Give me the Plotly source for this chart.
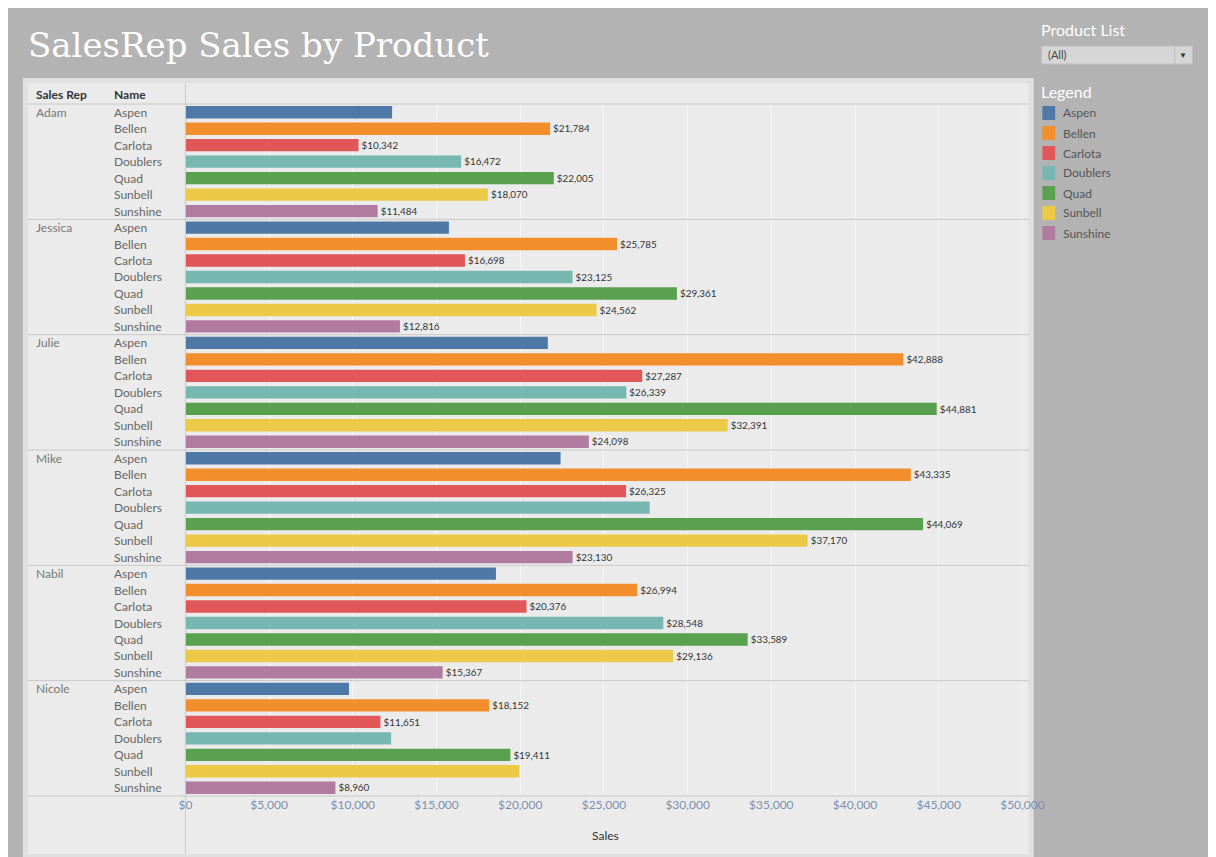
import plotly.graph_objects as go

W, H = 1216, 857

reps = ["Adam", "Jessica", "Julie", "Mike", "Nabil", "Nicole"]
products = ["Aspen", "Bellen", "Carlota", "Doublers", "Quad", "Sunbell", "Sunshine"]
colors = ["#4e79a7", "#f28e2b", "#e15759", "#76b7b2", "#59a14f", "#edc948", "#b07aa1"]

# sales[rep][product]
sales = {
    "Adam":    [12346, 21784, 10342, 16472, 22005, 18070, 11484],
    "Jessica": [15740, 25785, 16698, 23125, 29361, 24562, 12816],
    "Julie":   [21650, 42888, 27287, 26339, 44881, 32391, 24098],
    "Mike":    [22410, 43335, 26325, 27735, 44069, 37170, 23130],
    "Nabil":   [18550, 26994, 20376, 28548, 33589, 29136, 15367],
    "Nicole":  [9770, 18152, 11651, 12290, 19411, 19950, 8960],
}
# which bars show a label in the original
labelled = {
    "Adam":    [0, 1, 1, 1, 1, 1, 1],
    "Jessica": [0, 1, 1, 1, 1, 1, 1],
    "Julie":   [0, 1, 1, 1, 1, 1, 1],
    "Mike":    [0, 1, 1, 0, 1, 1, 1],
    "Nabil":   [0, 1, 1, 1, 1, 1, 1],
    "Nicole":  [0, 1, 1, 0, 1, 0, 1],
}
x_ticks = [0, 5000, 10000, 15000, 20000, 25000, 30000, 35000, 40000, 45000, 50000]


def px(x):
    return x / W


def py(y):
    return 1 - y / H


fig = go.Figure()

for j, prod in enumerate(products):
    ys, xs, texts = [], [], []
    for i, rep in enumerate(reps):
        v = sales[rep][j]
        ys.append(i * 7 + j)
        xs.append(v)
        texts.append(f"${v:,}" if labelled[rep][j] else "")
    fig.add_trace(go.Bar(
        x=xs, y=ys, orientation="h", width=0.75, name=prod,
        marker=dict(color=colors[j], line=dict(width=0)),
        text=texts, textposition="outside", cliponaxis=False,
        textfont=dict(size=12, color="#333333"),
        showlegend=False,
    ))

shapes = [
    # outer white frame
    dict(type="rect", xref="paper", yref="paper", x0=px(8), x1=px(1040), y0=py(851), y1=py(70),
         fillcolor="#e0e0e0", line=dict(width=0), layer="below"),
    dict(type="rect", xref="paper", yref="paper", x0=px(13), x1=px(1035), y0=py(846), y1=py(75),
         fillcolor="#ebebeb", line=dict(width=0), layer="below"),
    dict(type="line", xref="paper", yref="paper", x0=px(174), x1=px(174), y0=py(846), y1=py(75),
         line=dict(color="#c8c8c8", width=1)),
    dict(type="line", xref="paper", yref="paper", x0=px(13), x1=px(1035), y0=py(96), y1=py(96),
         line=dict(color="#c8c8c8", width=1)),
    dict(type="line", xref="paper", yref="paper", x0=px(13), x1=px(1035), y0=py(788), y1=py(788),
         line=dict(color="#c8c8c8", width=1)),
    # dropdown
    dict(type="rect", xref="paper", yref="paper", x0=px(1048), x1=px(1202), y0=py(56), y1=py(38),
         fillcolor="#d6d6d6", line=dict(color="#c0c0c0", width=1)),
    dict(type="line", xref="paper", yref="paper", x0=px(1184), x1=px(1184), y0=py(56), y1=py(38),
         line=dict(color="#c0c0c0", width=1)),
]
for i in range(1, len(reps)):
    shapes.append(dict(type="line", xref="paper", yref="y", x0=px(13), x1=px(1035),
                       y0=i * 7 - 0.5, y1=i * 7 - 0.5, line=dict(color="#c8c8c8", width=1)))

annotations = [
    dict(text="SalesRep Sales by Product", xref="paper", yref="paper", x=px(11), y=py(37),
         xanchor="left", yanchor="middle", showarrow=False,
         font=dict(family="DejaVu Serif", size=34, color="white")),
    dict(text="Product List", xref="paper", yref="paper", x=px(1046), y=py(22),
         xanchor="left", yanchor="middle", showarrow=False, font=dict(size=16, color="white")),
    dict(text="(All)", xref="paper", yref="paper", x=px(1053), y=py(47),
         xanchor="left", yanchor="middle", showarrow=False, font=dict(size=11, color="#444")),
    dict(text="▼", xref="paper", yref="paper", x=px(1193), y=py(47),
         xanchor="center", yanchor="middle", showarrow=False, font=dict(size=8, color="#333")),
    dict(text="Legend", xref="paper", yref="paper", x=px(1046), y=py(83),
         xanchor="left", yanchor="middle", showarrow=False, font=dict(size=16, color="white")),
    dict(text="<b>Sales Rep</b>", xref="paper", yref="paper", x=px(19), y=py(86),
         xanchor="left", yanchor="middle", showarrow=False, font=dict(size=12, color="#333")),
    dict(text="<b>Name</b>", xref="paper", yref="paper", x=px(99), y=py(86),
         xanchor="left", yanchor="middle", showarrow=False, font=dict(size=12, color="#333")),
    dict(text="Sales", xref="paper", yref="paper", x=px(603), y=py(827),
         xanchor="center", yanchor="middle", showarrow=False, font=dict(size=12, color="#333")),
]
for j, prod in enumerate(products):
    yc = 105 + 20 * j
    shapes.append(dict(type="rect", xref="paper", yref="paper", x0=px(1049), x1=px(1062),
                       y0=py(yc + 7), y1=py(yc - 7), fillcolor=colors[j], line=dict(width=0)))
    annotations.append(dict(text=prod, xref="paper", yref="paper", x=px(1068), y=py(yc),
                            xanchor="left", yanchor="middle", showarrow=False,
                            font=dict(size=12, color="#555")))
for i, rep in enumerate(reps):
    annotations.append(dict(text=rep, xref="paper", yref="y", x=px(19), y=i * 7,
                            xanchor="left", yanchor="middle", showarrow=False,
                            font=dict(size=12, color="#777")))
    for j, prod in enumerate(products):
        annotations.append(dict(text=prod, xref="paper", yref="y", x=px(99), y=i * 7 + j,
                                xanchor="left", yanchor="middle", showarrow=False,
                                font=dict(size=12, color="#666")))

fig.update_layout(
    width=W, height=H,
    margin=dict(l=0, r=0, t=0, b=0),
    paper_bgcolor="#b3b3b3",
    plot_bgcolor="rgba(0,0,0,0)",
    font=dict(family="Lato, Open Sans, sans-serif"),
    barmode="overlay",
    showlegend=False,
    shapes=shapes,
    annotations=annotations,
    xaxis=dict(domain=[px(174), px(1033)], range=[0, 50260], tickvals=x_ticks,
               ticktext=[f"${v:,}" for v in x_ticks], showgrid=True, gridcolor="#f5f5f5",
               gridwidth=1, zeroline=False, ticks="", showline=False,
               tickfont=dict(size=12, color="#7d8fb0"), anchor="y"),
    yaxis=dict(domain=[py(788), py(96)], range=[41.5, -0.5], showticklabels=False,
               showgrid=False, zeroline=False, ticks=""),
)

fig.write_html("out.html")
